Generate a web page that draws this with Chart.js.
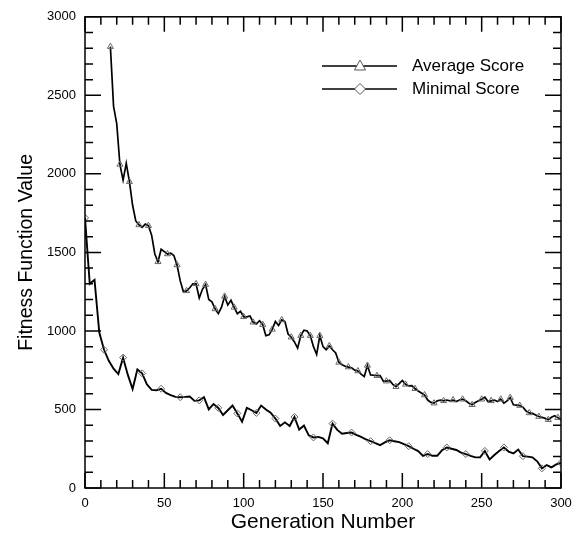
<!DOCTYPE html>
<html>
<head>
<meta charset="utf-8">
<script src="https://cdn.jsdelivr.net/npm/chart.js@4"></script>
<style>
body { margin: 0; background: #fff; }
#wrap { width: 583px; height: 535px; }
</style>
</head>
<body>
<div id="wrap"><canvas id="fitnessChart" width="583" height="535"></canvas></div>
<script>

// generations sampled for each series
const avgGenerations = [
  16, 18, 20, 22, 24, 26, 28, 30, 32, 34, 36, 38, 40, 42, 44, 46, 48, 50,
  52, 54, 56, 58, 60, 62, 64, 66, 68, 70, 72, 74, 76, 78, 80, 82, 84, 86, 88, 90, 92, 94, 96, 98, 100,
  102, 104, 106, 108, 110, 112, 114, 116, 118, 120, 122, 124, 126, 128, 130, 132, 134, 136, 138, 140, 142, 144, 146, 148, 150,
  152, 154, 156, 158, 160, 162, 164, 166, 168, 170, 172, 174, 176, 178, 180, 182, 184, 186, 188, 190, 192, 194, 196, 198, 200,
  202, 204, 206, 208, 210, 212, 214, 216, 218, 220, 222, 224, 226, 228, 230, 232, 234, 236, 238, 240, 242, 244, 246, 248, 250,
  252, 254, 256, 258, 260, 262, 264, 266, 268, 270, 272, 274, 276, 278, 280, 282, 284, 286, 288, 290, 292, 294, 296, 298, 300
];

const avgScore = [
  2810, 2430, 2320, 2060, 1960, 2067, 1950, 1800, 1700, 1675, 1660, 1680, 1670, 1610, 1490, 1440, 1520, 1505,
  1490, 1495, 1480, 1420, 1320, 1250, 1255, 1275, 1300, 1300, 1210, 1265, 1295, 1200, 1185, 1140, 1110, 1150, 1220, 1165, 1195, 1150, 1110, 1125, 1090,
  1090, 1095, 1055, 1045, 1065, 1040, 970, 975, 1010, 1060, 1035, 1070, 1060, 980, 960, 930, 890, 970, 1005, 1000, 970, 900, 850, 970, 900,
  880, 905, 880, 860, 800, 785, 775, 770, 765, 750, 745, 725, 710, 780, 720, 718, 715, 715, 680, 680, 685, 660, 645, 665, 685,
  660, 650, 652, 632, 618, 605, 592, 560, 545, 540, 555, 560, 555, 560, 555, 560, 550, 560, 565, 555, 540, 530, 545, 555, 565,
  578, 550, 555, 560, 550, 565, 540, 555, 575, 530, 528, 525, 515, 490, 478, 475, 465, 455, 450, 443, 435, 450, 460, 448, 432
];

const minGenerations = [
  0, 3, 6, 9, 12, 15, 18, 21, 24, 27, 30, 33, 36, 39, 42, 45, 48, 51, 54, 57, 60,
  63, 66, 69, 72, 75, 78, 81, 84, 87, 90, 93, 96, 99, 102, 105, 108, 111, 114, 117, 120,
  123, 126, 129, 132, 135, 138, 141, 144, 147, 150, 153, 156, 159, 162, 165, 168, 171, 174, 177, 180,
  183, 186, 189, 192, 195, 198, 201, 204, 207, 210, 213, 216, 219, 222, 225, 228, 231, 234, 237, 240,
  243, 246, 249, 252, 255, 258, 261, 264, 267, 270, 273, 276, 279, 282, 285, 288, 291, 294, 297, 300
];

const minScore = [
  1720, 1300, 1325, 990, 880, 810, 760, 725, 830, 720, 630, 755, 730, 660, 625, 622, 632, 605, 592, 580, 578,
  580, 583, 555, 558, 578, 500, 535, 510, 465, 495, 525, 475, 422, 510, 495, 478, 525, 500, 480, 442,
  395, 418, 395, 452, 372, 398, 335, 322, 325, 316, 285, 410, 370, 345, 350, 353, 338, 325, 310, 298,
  285, 273, 290, 304, 298, 292, 280, 266, 250, 235, 205, 216, 205, 205, 240, 258, 250, 242, 225, 216,
  205, 195, 195, 236, 182, 210, 235, 258, 232, 220, 245, 203, 200, 195, 170, 125, 146, 131, 150, 160
];

const xTicks = [0, 50, 100, 150, 200, 250, 300];
const yTicks = [0, 500, 1000, 1500, 2000, 2500, 3000];

const fontFamily = "'Liberation Sans', Arial, Helvetica, sans-serif";


function toPoints(xs, ys) {
  return xs.map((x, i) => ({ x: x, y: ys[i] }));
}


// box around the plot with inward ticks on all four sides
const frameTicks = {
  id: 'frameTicks',
  afterDraw(chart) {
    const ctx = chart.ctx;
    const area = chart.chartArea;
    const xs = chart.scales.x;
    const ys = chart.scales.y;

    ctx.save();
    ctx.strokeStyle = '#000';
    ctx.lineWidth = 1.5;
    ctx.strokeRect(area.left, area.top, area.right - area.left, area.bottom - area.top);

    ctx.beginPath();
    for (let v = xs.min; v <= xs.max; v += 10) {
      const px = xs.getPixelForValue(v);
      const len = xTicks.includes(v) ? 15 : 8;
      ctx.moveTo(px, area.bottom);
      ctx.lineTo(px, area.bottom - len);
      ctx.moveTo(px, area.top);
      ctx.lineTo(px, area.top + len);
    }
    for (let v = ys.min; v <= ys.max; v += 100) {
      const py = ys.getPixelForValue(v);
      const len = yTicks.includes(v) ? 16 : 8;
      ctx.moveTo(area.left, py);
      ctx.lineTo(area.left + len, py);
      ctx.moveTo(area.right, py);
      ctx.lineTo(area.right - len, py);
    }
    ctx.stroke();
    ctx.restore();
  }
};


// legend drawn as line + marker + label, like the original
const lineLegend = {
  id: 'lineLegend',
  afterDraw(chart) {
    const ctx = chart.ctx;
    const x0 = 322, x1 = 397, mx = 360, tx = 412;
    const rows = [66, 89];

    ctx.save();
    chart.data.datasets.forEach((ds, i) => {
      const y = rows[i];
      ctx.strokeStyle = '#000';
      ctx.lineWidth = 1.4;
      ctx.beginPath();
      ctx.moveTo(x0, y);
      ctx.lineTo(x1, y);
      ctx.stroke();

      ctx.fillStyle = '#fff';
      ctx.strokeStyle = '#555';
      ctx.lineWidth = 1;
      ctx.beginPath();
      if (ds.pointStyle === 'triangle') {
        ctx.moveTo(mx, y - 6);
        ctx.lineTo(mx + 5.5, y + 4);
        ctx.lineTo(mx - 5.5, y + 4);
      } else {
        ctx.moveTo(mx, y - 5.5);
        ctx.lineTo(mx + 5.5, y);
        ctx.lineTo(mx, y + 5.5);
        ctx.lineTo(mx - 5.5, y);
      }
      ctx.closePath();
      ctx.fill();
      ctx.stroke();

      ctx.fillStyle = '#000';
      ctx.font = '17px ' + fontFamily;
      ctx.textBaseline = 'middle';
      ctx.fillText(ds.label, tx, y);
    });
    ctx.restore();
  }
};


new Chart(document.getElementById('fitnessChart'), {
  type: 'line',
  data: {
    datasets: [
      {
        label: 'Average Score',
        data: toPoints(avgGenerations, avgScore),
        borderColor: '#000',
        borderWidth: 1.7,
        pointStyle: 'triangle',
        pointRadius: (c) => (c.dataIndex % 3 === 0 ? 3.5 : 0),
        pointBorderColor: '#666',
        pointBorderWidth: 1,
        pointBackgroundColor: 'rgba(0,0,0,0)',
        tension: 0
      },
      {
        label: 'Minimal Score',
        data: toPoints(minGenerations, minScore),
        borderColor: '#000',
        borderWidth: 1.9,
        pointStyle: 'rectRot',
        pointRadius: (c) => (c.dataIndex % 4 === 0 ? 3.5 : 0),
        pointBorderColor: '#666',
        pointBorderWidth: 1,
        pointBackgroundColor: 'rgba(0,0,0,0)',
        tension: 0
      }
    ]
  },
  options: {
    responsive: false,
    animation: false,
    layout: { padding: { top: 15, right: 22, left: 0, bottom: 0 } },
    plugins: {
      legend: { display: false },
      tooltip: { enabled: false }
    },
    scales: {
      x: {
        type: 'linear',
        min: 0,
        max: 300,
        afterBuildTicks: (s) => { s.ticks = xTicks.map(v => ({ value: v })); },
        afterFit: (s) => { s.height = 47; },
        grid: { display: false, drawTicks: false },
        border: { display: false },
        ticks: {
          color: '#000',
          padding: 8,
          maxRotation: 0,
          font: { family: fontFamily, size: 13 },
          callback: (v) => String(v)
        },
        title: {
          display: true,
          text: 'Generation Number',
          color: '#000',
          padding: { top: 0, bottom: 0 },
          font: { family: fontFamily, size: 21 }
        }
      },
      y: {
        min: 0,
        max: 3000,
        afterBuildTicks: (s) => { s.ticks = yTicks.map(v => ({ value: v })); },
        afterFit: (s) => { s.width = 85; },
        grid: { display: false, drawTicks: false },
        border: { display: false },
        ticks: {
          color: '#000',
          padding: 9,
          font: { family: fontFamily, size: 13 },
          callback: (v) => String(v)
        },
        title: {
          display: true,
          text: 'Fitness Function Value',
          color: '#000',
          padding: { top: 15, bottom: 0 },
          font: { family: fontFamily, size: 19.5 }
        }
      }
    }
  },
  plugins: [frameTicks, lineLegend]
});

</script>
</body>
</html>
